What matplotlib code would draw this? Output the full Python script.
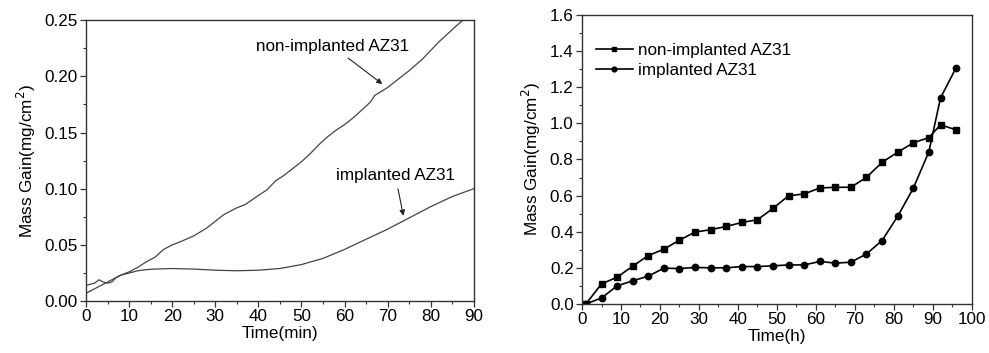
import matplotlib.pyplot as plt
from matplotlib.ticker import MultipleLocator

plt.rcParams['font.family'] = ['Liberation Sans', 'DejaVu Sans']

# left panel: continuous mass gain curves (min)
t_non = [0, 2, 3, 4, 5, 6, 7, 8, 10, 12, 14, 16, 18, 20, 22, 25, 28, 30, 32, 35, 37, 40,
         42, 44, 46, 48, 50, 52, 54, 56, 58, 60, 62, 64, 66, 67, 70, 72, 73, 75, 78, 80,
         82, 84, 86, 87.5]
m_non = [0.014, 0.016, 0.019, 0.017, 0.016, 0.017, 0.021, 0.023, 0.026, 0.030, 0.035,
         0.039, 0.046, 0.050, 0.053, 0.058, 0.065, 0.071, 0.077, 0.083, 0.086, 0.094,
         0.099, 0.107, 0.112, 0.118, 0.124, 0.131, 0.139, 0.146, 0.152, 0.157, 0.163,
         0.170, 0.177, 0.183, 0.190, 0.196, 0.199, 0.205, 0.215, 0.223, 0.231, 0.238,
         0.245, 0.250]
t_imp = [0, 2, 4, 6, 8, 10, 12, 14, 16, 20, 25, 30, 35, 40, 45, 50, 55, 60, 65, 70, 75,
         80, 85, 90]
m_imp = [0.007, 0.011, 0.015, 0.019, 0.023, 0.025, 0.027, 0.028, 0.0285, 0.029, 0.0285,
         0.0275, 0.027, 0.0275, 0.029, 0.0325, 0.038, 0.046, 0.055, 0.064, 0.074, 0.084,
         0.093, 0.100]

# right panel: discrete measurements (h)
hours = [1, 5, 9, 13, 17, 21, 25, 29, 33, 37, 41, 45, 49, 53, 57, 61, 65, 69, 73, 77,
         81, 85, 89, 92, 96]
gain_non = [0.0, 0.111, 0.148, 0.209, 0.268, 0.303, 0.353, 0.398, 0.411, 0.429, 0.451,
            0.466, 0.529, 0.599, 0.609, 0.642, 0.646, 0.646, 0.701, 0.784, 0.840, 0.892,
            0.921, 0.992, 0.964]
gain_imp = [0.0, 0.033, 0.100, 0.128, 0.154, 0.198, 0.196, 0.202, 0.200, 0.200, 0.207,
            0.207, 0.211, 0.216, 0.216, 0.235, 0.226, 0.231, 0.277, 0.351, 0.485, 0.640,
            0.842, 1.141, 1.308]

fig = plt.figure(figsize=(9.89, 3.53), dpi=100)
ax1 = fig.add_axes([0.087, 0.147, 0.392, 0.796])
ax2 = fig.add_axes([0.5885, 0.139, 0.394, 0.8185])

fs = 12.3
for ax in (ax1, ax2):
    for s in ax.spines.values():
        s.set_color('#333333')
        s.set_linewidth(1.0)
    ax.tick_params(which='major', direction='out', length=4, width=0.9,
                   color='#333333', labelsize=fs, pad=2)
    ax.tick_params(which='minor', direction='out', length=2.5, width=0.8,
                   color='#333333')

ax1.plot(t_non, m_non, color='#444444', lw=0.9)
ax1.plot(t_imp, m_imp, color='#444444', lw=0.9)
ax1.set_xlim(0, 90)
ax1.set_ylim(0, 0.25)
ax1.xaxis.set_major_locator(MultipleLocator(10))
ax1.xaxis.set_minor_locator(MultipleLocator(5))
ax1.yaxis.set_major_locator(MultipleLocator(0.05))
ax1.yaxis.set_minor_locator(MultipleLocator(0.025))
ax1.yaxis.set_major_formatter(plt.FormatStrFormatter('%.2f'))
ax1.set_xlabel('Time(min)', fontsize=fs, labelpad=1)
ax1.set_ylabel('Mass Gain(mg/cm$^2$)', fontsize=fs, labelpad=5)

arrow = dict(arrowstyle='-|>', color='#222222', lw=0.8, mutation_scale=8)
ax1.annotate('non-implanted AZ31', xy=(69.3, 0.1916), xytext=(57.2, 0.2269),
             ha='center', va='center', fontsize=fs, arrowprops=arrow)
ax1.annotate('implanted AZ31', xy=(73.8, 0.0735), xytext=(71.8, 0.1115),
             ha='center', va='center', fontsize=fs, arrowprops=arrow)

ax2.plot(hours, gain_non, color='black', lw=1.2, marker='s', ms=4.3,
         label='non-implanted AZ31')
ax2.plot(hours, gain_imp, color='black', lw=1.2, marker='o', ms=4.6,
         label='implanted AZ31')
ax2.set_xlim(0, 100)
ax2.set_ylim(0, 1.6)
ax2.xaxis.set_major_locator(MultipleLocator(10))
ax2.xaxis.set_minor_locator(MultipleLocator(5))
ax2.yaxis.set_major_locator(MultipleLocator(0.2))
ax2.yaxis.set_minor_locator(MultipleLocator(0.1))
ax2.yaxis.set_major_formatter(plt.FormatStrFormatter('%.1f'))
ax2.set_xlabel('Time(h)', fontsize=fs, labelpad=1)
ax2.set_ylabel('Mass Gain(mg/cm$^2$)', fontsize=fs, labelpad=5)
ax2.legend(loc='upper left', frameon=False, fontsize=fs, handlelength=2.2,
           handletextpad=0.3, borderaxespad=0.4, labelspacing=0.3,
           bbox_to_anchor=(0.0, 0.95), markerscale=0.75)

fig.savefig('out.png', dpi=100)
